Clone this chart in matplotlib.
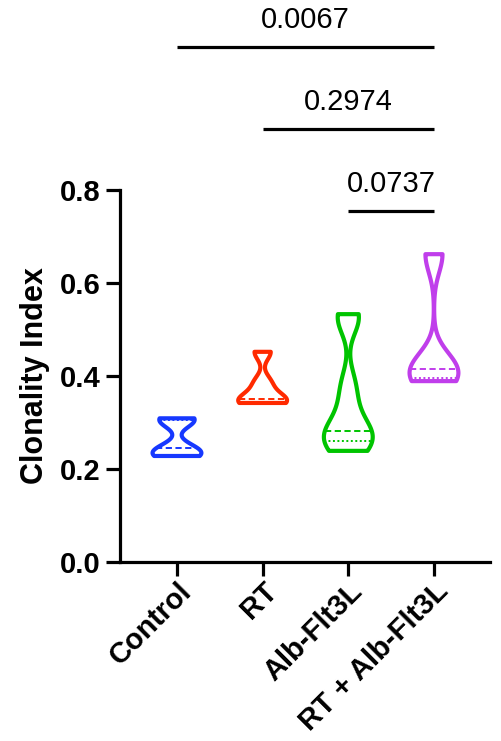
import numpy as np
import matplotlib
matplotlib.use("Agg")
import matplotlib.pyplot as plt
from matplotlib import cbook

plt.rcParams["font.family"] = ["Liberation Sans", "DejaVu Sans"]

# Groups and their clonality index values
groups = ["Control", "RT", "Alb-Flt3L", "RT + Alb-Flt3L"]
control = [0.228, 0.232, 0.245, 0.303, 0.309]
rt = [0.342, 0.346, 0.351, 0.385, 0.452]
alb_flt3l = [0.239, 0.245, 0.275, 0.279, 0.282, 0.335, 0.384, 0.520, 0.533]
rt_alb_flt3l = [0.389, 0.414, 0.416, 0.662]
datasets = [control, rt, alb_flt3l, rt_alb_flt3l]

# Kernel bandwidth (smoothing) used for each violin
bandwidths = [0.016, 0.017, 0.035, 0.040]
colors = ["#1638FF", "#FF2A00", "#00C400", "#C03EEB"]

# Pairwise comparisons: (group a, group b, p value)
comparisons = [(2, 3, "0.0737"), (1, 3, "0.2974"), (0, 3, "0.0067")]
bar_levels = [0.755, 0.931, 1.108]

yticks = [0.0, 0.2, 0.4, 0.6, 0.8]
violin_width = 0.57


def gaussian_kde(h):
    def method(x, coords):
        x = np.asarray(x, dtype=float)
        d = (np.asarray(coords)[:, None] - x[None, :]) / h
        return np.exp(-0.5 * d ** 2).sum(axis=1) / (len(x) * h * np.sqrt(2 * np.pi))
    return method


fig = plt.figure(figsize=(5.01, 7.41), dpi=100)
ax = fig.add_axes([120 / 501, 1 - 562 / 741, 370 / 501, 372 / 741])

for i, (vals, h, c) in enumerate(zip(datasets, bandwidths, colors)):
    stats = cbook.violin_stats(np.asarray(vals), gaussian_kde(h), points=400)
    parts = ax.violin(stats, positions=[i], widths=violin_width, showextrema=False)
    body = parts["bodies"][0]
    body.set_facecolor("none")
    body.set_edgecolor(c)
    body.set_alpha(1)
    body.set_linewidth(3.0)
    body.set_joinstyle("round")
    body.set_zorder(3)

    st = stats[0]
    dens = np.asarray(st["vals"])
    q1, med, q3 = np.percentile(vals, [25, 50, 75], method="weibull")
    for q, style in [(med, (0, (3.2, 1.8))), (q1, (0, (1, 1.3))), (q3, (0, (1, 1.3)))]:
        hw = np.interp(q, st["coords"], dens) / dens.max() * violin_width / 2
        ax.hlines(q, i - hw, i + hw, colors=c, linewidth=1.4,
                  linestyles=[style], zorder=2)

# Significance bars with p values
for (a, b, label), y in zip(comparisons, bar_levels):
    ax.plot([a, b], [y, y], color="black", lw=2.3, clip_on=False,
            solid_capstyle="butt")
    ax.text((a + b) / 2, y + 0.04, label, ha="center", va="baseline",
            fontsize=21, clip_on=False)

ax.set_xlim(-0.665, 3.654)
ax.set_ylim(0, 0.8)
ax.spines["top"].set_visible(False)
ax.spines["right"].set_visible(False)
for s in ("left", "bottom"):
    ax.spines[s].set_linewidth(2.3)

ax.set_yticks(yticks)
ax.set_yticklabels([f"{t:.1f}" for t in yticks])
ax.set_xticks(range(len(groups)))
ax.set_xticklabels(groups, rotation=45, ha="right", rotation_mode="anchor")
ax.tick_params(axis="both", width=2.3, length=10)
ax.tick_params(axis="y", pad=4, labelsize=21)
ax.tick_params(axis="x", pad=1, labelsize=21)
for lbl in ax.get_xticklabels() + ax.get_yticklabels():
    lbl.set_fontweight("bold")

ax.set_ylabel("Clonality Index", fontsize=22, fontweight="bold")
ax.yaxis.set_label_coords(-0.188, 0.5)

fig.savefig("out.png", dpi=100)
